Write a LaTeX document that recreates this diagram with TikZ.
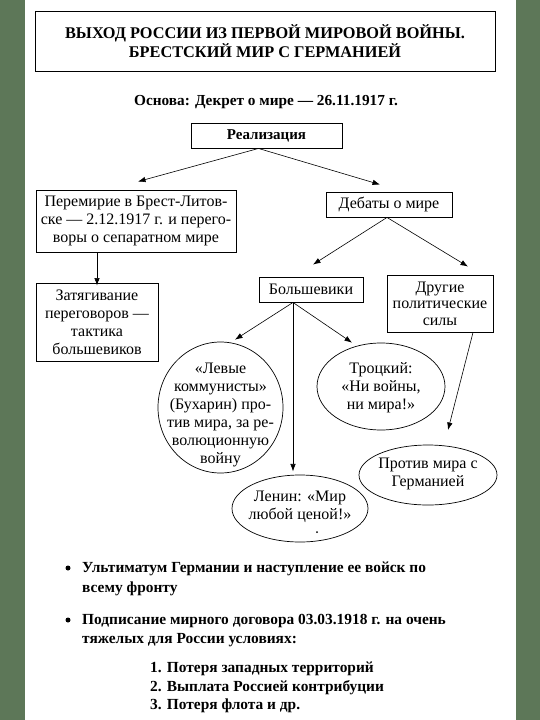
\documentclass[tikz,border=0pt]{standalone}
\usepackage{fontspec}
\setmainfont{Liberation Serif}
\usetikzlibrary{arrows.meta,shapes.geometric,calc}
\definecolor{frame}{RGB}{93,119,88}
\begin{document}
\begin{tikzpicture}[x=1pt,y=-1pt,
  box/.style={draw,line width=0.9pt,align=center,inner sep=0pt,font=\fontsize{16}{18}\selectfont},
  oval/.style={draw,ellipse,line width=0.7pt,inner sep=0pt},
  txt/.style={align=center,inner sep=0pt,font=\fontsize{16}{18}\selectfont},
  btxt/.style={inner sep=0pt,anchor=base west,font=\bfseries\fontsize{15.4}{18}\selectfont},
  arr/.style={-{Latex[length=7.5pt,width=5.5pt]},line width=0.6pt}]
\fill[frame] (0,0) rectangle (540,720);
\fill[white] (25,0) rectangle (516,720);
\useasboundingbox (0,0) rectangle (540,720);

% title
\node[box,minimum width=460pt,minimum height=60pt,font=\bfseries\fontsize{16.3}{19}\selectfont] (title) at (265,41)
  {ВЫХОД РОССИИ ИЗ ПЕРВОЙ МИРОВОЙ ВОЙНЫ.\\БРЕСТСКИЙ МИР С ГЕРМАНИЕЙ};
\node[txt,font=\bfseries\fontsize{15.3}{18}\selectfont] (osnova) at (266,102) {Основа: Декрет о мире — 26.11.1917 г.};

% boxes
\node[box,minimum width=151pt,minimum height=25pt,font=\bfseries\fontsize{15}{18}\selectfont] (real) at (266.5,135.5) {Реализация};
\node[box,minimum width=200pt,minimum height=62pt] (brest) at (136,221)
  {Перемирие в Брест-Литов-\\ске — 2.12.1917 г. и перего-\\воры о сепаратном мире};
\node[box,minimum width=126pt,minimum height=25pt] (debate) at (389,204.5) {Дебаты о мире};
\node[box,minimum width=122pt,minimum height=78pt] (zatyag) at (97,322)
  {Затягивание\\переговоров —\\тактика\\большевиков};
\node[box,minimum width=104pt,minimum height=25pt] (bolsh) at (311,289.5) {Большевики};
\node[box,minimum width=106pt,minimum height=57pt,font=\fontsize{16}{16.5}\selectfont] (other) at (440,303.5)
  {Другие\\политические\\силы};

% ellipses
\node[oval,minimum width=125pt,minimum height=131pt] (left) at (220.5,407.5) {};
\node[txt] (lefttxt) at (220.5,415) {«Левые\\коммунисты»\\(Бухарин) про-\\тив мира, за ре-\\волюционную\\войну};
\node[oval,minimum width=128pt,minimum height=87pt] (trotsky) at (381,386.5) {};
\node[txt] (trotskytxt) at (381,388) {Троцкий:\\«Ни войны,\\ни мира!»};
\node[oval,minimum width=136pt,minimum height=67pt] (lenin) at (300,508.5) {};
\node[txt] (lenintxt) at (300,506.5) {Ленин: «Мир\\любой ценой!»};
\node[oval,minimum width=138pt,minimum height=60pt] (against) at (428,475) {};
\node[txt] (againsttxt) at (428,474) {Против мира с\\Германией};
\fill (317,532) circle (1pt);

% connector ends
\coordinate (rs) at ($(real.south)+(-8,0)$);
\coordinate (t1) at ($(brest.north)+(2,-8)$);
\coordinate (t2) at ($(debate.north)+(-9,-7)$);
\coordinate (ds) at ($(debate.south)+(-2,0)$);
\coordinate (t3) at ($(bolsh.north)+(2,-12)$);
\coordinate (t4) at ($(other.north)+(28,-8)$);
\coordinate (bs) at ($(bolsh.south)+(-18,0)$);
\coordinate (t5) at ($(left.north)+(14.5,-2)$);
\coordinate (t6) at ($(trotsky.north)+(-29,0)$);
\coordinate (t7) at ($(bs)+(0,169)$);
\coordinate (os) at ($(other.south)+(33,0)$);
\coordinate (t8) at (448,430);

\draw[arr] (rs) -- (t1);
\draw[arr] (rs) -- (t2);
\draw[arr] (ds) -- (t3);
\draw[arr] (ds) -- (t4);
\draw[arr] (brest.south -| zatyag.north) -- ([yshift=-3pt]zatyag.north);
\draw[arr] (bs) -- (t5);
\draw[arr] (bs) -- (t6);
\draw[arr] (bs) -- (t7);
\draw[arr] (os) -- (t8);

% bottom text
\fill (68,568) circle (2.5pt);
\fill (68,620) circle (2.5pt);
\node[btxt] (u1) at (82,572) {Ультиматум Германии и наступление ее войск по};
\node[btxt] (u2) at (82,592) {всему фронту};
\node[btxt] (p1) at (82,624) {Подписание мирного договора 03.03.1918 г. на очень};
\node[btxt] (p2) at (82,643) {тяжелых для России условиях:};
\node[btxt] (l1) at (150,672) {1. Потеря западных территорий};
\node[btxt] (l2) at (150,691) {2. Выплата Россией контрибуции};
\node[btxt] (l3) at (150,709) {3. Потеря флота и др.};
\end{tikzpicture}
\end{document}
